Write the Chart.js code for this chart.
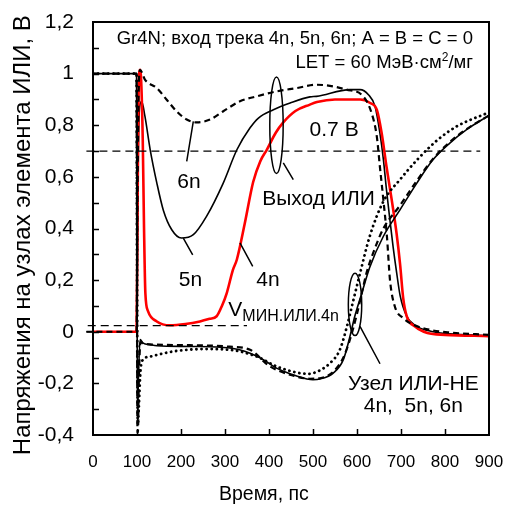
<!DOCTYPE html>
<html><head><meta charset="utf-8">
<script src="https://cdn.jsdelivr.net/npm/chart.js@4.4.1/dist/chart.umd.min.js"></script>
<style>html,body{margin:0;padding:0;background:#fff}canvas{display:block}</style>
</head><body>
<canvas id="c" width="508" height="509"></canvas>
<script>
// ---------- data ----------
const xTickValues = [0,100,200,300,400,500,600,700,800,900];
const xTickLabels = ['0','100','200','300','400','500','600','700','800','900'];
const yTickValues = [-0.4,-0.2,0,0.2,0.4,0.6,0.8,1,1.2];
const yTickLabels = ['-0,4','-0,2','0','0,2','0,4','0,6','0,8','1','1,2'];

// Выход ИЛИ, 4n (red)
const tOr4 = [0,99,101,103,105,107,110,113,116,119,125,145,175,210,243,265,281,293,304,318,327,345,364,380,395,415,432,460,493,509,550,584,607,630,645,656,667,679,690,698,705,713,732,760,800,900];
const vOr4 = [0,0,0.4,0.85,1.0,1.015,0.95,0.75,0.4,0.15,0.08,0.04,0.025,0.03,0.04,0.05,0.06,0.1,0.15,0.24,0.28,0.42,0.58,0.66,0.705,0.77,0.81,0.855,0.88,0.89,0.9,0.9,0.9,0.886,0.86,0.77,0.64,0.51,0.38,0.26,0.13,0.06,0.02,-0.005,-0.012,-0.017];
// Выход ИЛИ, 5n (solid black)
const tOr5 = [-15,99,101,103,106,110.6,118,130,145,160,179,201,228,258,296,327,357,376,410,448,493,508,584,607,626,641,652,660,667,675,682,690,698,713,732,773,811,900];
const vOr5 = [0,0,0.3,0.7,0.87,0.893,0.835,0.705,0.577,0.47,0.395,0.363,0.376,0.447,0.576,0.705,0.79,0.828,0.86,0.886,0.91,0.912,0.938,0.938,0.918,0.873,0.77,0.667,0.55,0.43,0.33,0.23,0.14,0.06,0.025,0.0,-0.008,-0.015];
// Выход ИЛИ, 6n (dashed black)
const tOr6 = [-15,99,101,104,107,118,145,167,190,213,236,266,296,334,372,417,463,508,576,614,633,645,652,660,668,675,686,705,728,773,811,900];
const vOr6 = [0,0,0.5,0.95,1.015,0.977,0.944,0.9,0.854,0.822,0.811,0.822,0.854,0.893,0.912,0.931,0.944,0.957,0.938,0.912,0.848,0.757,0.64,0.51,0.37,0.2,0.098,0.053,0.027,0.005,-0.003,-0.012];

// Узел ИЛИ-НЕ, 4n (dotted)
const tNor4 = [0,99,100,101,102,104,108,114,130,183,258,311,372,417,463,490,515,539,561,577,592,607,629,660,698,736,781,826,900];
const vNor4 = [1,1,0.3,-0.2,-0.36,-0.3,-0.15,-0.108,-0.096,-0.076,-0.067,-0.07,-0.096,-0.134,-0.158,-0.163,-0.15,-0.121,-0.07,0.02,0.124,0.227,0.37,0.505,0.59,0.665,0.74,0.795,0.85];
// Узел ИЛИ-НЕ, 5n (solid)
const tNor5 = [0,99,100,101,103,107,114,130,145,220,311,357,387,417,455,486,500,516,546,569,584,595,611,629,660,698,736,773,811,849,900];
const vNor5 = [1,1,0.3,-0.35,-0.2,-0.03,-0.044,-0.05,-0.054,-0.057,-0.063,-0.083,-0.108,-0.141,-0.167,-0.183,-0.186,-0.183,-0.16,-0.108,-0.018,0.06,0.15,0.25,0.37,0.473,0.576,0.667,0.731,0.783,0.838];
// Узел ИЛИ-НЕ, 6n (dashed)
const tNor6 = [0,99,100,101,102,104,108,114,145,220,311,357,402,455,493,516,546,569,584,600,611,622,640,660,698,736,773,811,849,900];
const vNor6 = [1,1,0.3,-0.39,-0.39,-0.2,-0.04,-0.045,-0.05,-0.052,-0.058,-0.07,-0.134,-0.17,-0.182,-0.18,-0.155,-0.1,-0.03,0.07,0.15,0.23,0.32,0.4,0.49,0.585,0.67,0.735,0.785,0.838];

// reference levels
const tLevel07 = [-15,880];
const vLevel07 = [0.7,0.7];
const tLevelMin = [-12,350];
const vLevelMin = [0.024,0.024];

// ---------- annotations (data coordinates) ----------
const FONT = '"Liberation Sans", Arial, sans-serif';
const labels = [
  {text:'6n', t:218, v:0.557, size:21, align:'center'},
  {text:'5n', t:221.6, v:0.176, size:21, align:'center'},
  {text:'4n', t:397.7, v:0.176, size:21, align:'center'},
  {text:'Выход ИЛИ', t:512.5, v:0.492, size:21, align:'center'},
  {text:'0.7 В', t:548, v:0.757, size:21, align:'center'},
  {text:'Узел ИЛИ-НЕ', t:728, v:-0.225, size:21, align:'center'},
  {text:'4n,  5n, 6n', t:728, v:-0.309, size:21, align:'center'},
  {text:'Gr4N; вход трека 4n, 5n, 6n; A = B = C = 0', t:863.6, v:1.115, size:18.5, align:'right'}
];
const leaders = [
  [228,0.815,213,0.66],
  [205.2,0.363,226.6,0.298],
  [334,0.344,363,0.253],
  [432.5,0.654,455.2,0.589],
  [606.8,0.0205,652.3,-0.124]
];
const ellipses = [
  {t:417, v:0.80, rt:15.2, rv:0.187},
  {t:595.5, v:0.106, rt:15.2, rv:0.121}
];

const pts = (t,v) => t.map((x,i)=>({x, y:v[i]}));
const noPad = s => { s.paddingTop = 0; s.paddingBottom = 0; s.paddingLeft = 0; s.paddingRight = 0; };

const decor = {
  id:'decor',
  afterDraw(chart){
    const {ctx, chartArea:a, scales:{x, y}} = chart;
    ctx.save();
    ctx.strokeStyle = '#000';
    ctx.fillStyle = '#000';
    // inner tick marks
    ctx.lineWidth = 1.5;
    ctx.beginPath();
    for (let k = 1; k < xTickValues.length - 1; k++) {
      const px = Math.round(x.getPixelForValue(xTickValues[k])) + 0.5;
      ctx.moveTo(px, a.bottom); ctx.lineTo(px, a.bottom - 6);
    }
    for (let k = 1; k < 16; k++) {
      const val = -0.4 + k * 0.1;
      const py = Math.round(y.getPixelForValue(val)) + 0.5;
      ctx.moveTo(a.left, py); ctx.lineTo(a.left + 6, py);
    }
    ctx.stroke();
    // frame
    ctx.lineWidth = 2;
    ctx.strokeRect(a.left, a.top, a.right - a.left, a.bottom - a.top);
    // leaders
    ctx.lineWidth = 1.5;
    ctx.beginPath();
    leaders.forEach(l => {
      ctx.moveTo(x.getPixelForValue(l[0]), y.getPixelForValue(l[1]));
      ctx.lineTo(x.getPixelForValue(l[2]), y.getPixelForValue(l[3]));
    });
    ctx.stroke();
    ellipses.forEach(e => {
      const cx = x.getPixelForValue(e.t), cy = y.getPixelForValue(e.v);
      const rx = x.getPixelForValue(e.t + e.rt) - cx;
      const ry = cy - y.getPixelForValue(e.v + e.rv);
      ctx.beginPath();
      ctx.ellipse(cx, cy, rx, ry, 0, 0, Math.PI * 2);
      ctx.stroke();
    });
    // texts
    ctx.textBaseline = 'alphabetic';
    labels.forEach(l => {
      ctx.font = l.size + 'px ' + FONT;
      ctx.textAlign = l.align;
      ctx.fillText(l.text, x.getPixelForValue(l.t), y.getPixelForValue(l.v));
    });
    // LET line with superscript
    {
      const right = x.getPixelForValue(863.6), base = y.getPixelForValue(1.022);
      const f1 = '18.5px ' + FONT, f2 = '12px ' + FONT;
      ctx.textAlign = 'left';
      ctx.font = f1; const w1 = ctx.measureText('LET = 60 МэВ·см').width;
      const w3 = ctx.measureText('/мг').width;
      ctx.font = f2; const w2 = ctx.measureText('2').width;
      let sx = right - (w1 + w2 + w3);
      ctx.font = f1; ctx.fillText('LET = 60 МэВ·см', sx, base); sx += w1;
      ctx.font = f2; ctx.fillText('2', sx, base - 7); sx += w2;
      ctx.font = f1; ctx.fillText('/мг', sx, base);
    }
    // V_min label with subscript
    {
      const sx = x.getPixelForValue(307.5);
      ctx.textAlign = 'left';
      ctx.font = '21px ' + FONT;
      ctx.fillText('V', sx, y.getPixelForValue(0.0593));
      const wv = ctx.measureText('V').width;
      ctx.font = '16px ' + FONT;
      ctx.fillText('МИН.ИЛИ.4n', sx + wv, y.getPixelForValue(0.0399));
    }
    ctx.restore();
  }
};

const black = '#000';
new Chart(document.getElementById('c'), {
  type: 'line',
  data: {
    datasets: [
      {data: pts(tLevel07, vLevel07), borderColor: black, borderWidth: 1.3, borderDash: [8,5], clip: false},
      {data: pts(tLevelMin, vLevelMin), borderColor: black, borderWidth: 1.3, borderDash: [8,5], clip: false},
      {data: pts(tNor4, vNor4), borderColor: black, borderWidth: 2.8, borderDash: [0.1,5], borderCapStyle: 'round', cubicInterpolationMode: 'monotone'},
      {data: pts(tNor6, vNor6), borderColor: black, borderWidth: 2.2, borderDash: [6,4], cubicInterpolationMode: 'monotone'},
      {data: pts(tNor5, vNor5), borderColor: black, borderWidth: 1.6, cubicInterpolationMode: 'monotone'},
      {data: pts(tOr6, vOr6), borderColor: black, borderWidth: 2.2, borderDash: [6,4], cubicInterpolationMode: 'monotone', clip: false},
      {data: pts(tOr4, vOr4), borderColor: '#ff0000', borderWidth: 2.6, cubicInterpolationMode: 'monotone'},
      {data: pts(tOr5, vOr5), borderColor: black, borderWidth: 1.6, cubicInterpolationMode: 'monotone', clip: false}
    ]
  },
  options: {
    responsive: false,
    animation: false,
    events: [],
    layout: {padding: {top: 22, right: 19, left: 0, bottom: 0}},
    elements: {point: {radius: 0}, line: {borderJoinStyle: 'round'}},
    plugins: {legend: {display: false}, tooltip: {enabled: false}},
    scales: {
      x: {
        type: 'linear', min: 0, max: 900,
        afterBuildTicks: s => { s.ticks = xTickValues.map(v => ({value: v})); },
        afterFit: s => { s.height = 74; noPad(s); },
        grid: {display: false, drawTicks: false},
        border: {display: false},
        ticks: {
          autoSkip: false, maxRotation: 0, padding: 17, color: '#000',
          font: {family: FONT, size: 17},
          callback: v => xTickLabels[xTickValues.indexOf(v)]
        },
        title: {display: true, text: 'Время, пс' + '\u00a0'.repeat(10), color: '#000', font: {family: FONT, size: 19.5}, padding: {top: 0, bottom: 3}}
      },
      y: {
        type: 'linear', min: -0.4, max: 1.2,
        afterBuildTicks: s => { s.ticks = yTickValues.map(v => ({value: v})); },
        afterFit: s => { s.width = 93; noPad(s); },
        grid: {display: false, drawTicks: false},
        border: {display: false},
        ticks: {
          padding: 19, color: '#000',
          font: {family: FONT, size: 21},
          callback: v => yTickLabels[yTickValues.findIndex(k => Math.abs(k - v) < 1e-6)]
        },
        title: {display: true, text: 'Напряжения на узлах элемента ИЛИ, В  ', color: '#000', font: {family: FONT, size: 24}, padding: {top: 9, bottom: 0}}
      }
    }
  },
  plugins: [decor]
});
</script>
</body></html>
